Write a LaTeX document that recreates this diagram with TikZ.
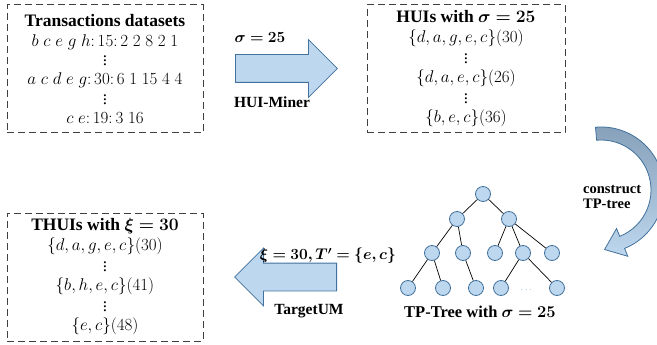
\documentclass[tikz,border=0pt]{standalone}
\usepackage{fix-cm}
\usepackage{amsmath}
\usepackage{amssymb}
\usepackage{bm}
\usepackage{fontspec}
\setmainfont{Liberation Serif}
\usepackage{tikz}
\usetikzlibrary{shapes.arrows,calc,positioning}

\definecolor{nodefill}{RGB}{189,215,238}
\definecolor{nodeline}{RGB}{65,113,156}
\definecolor{darkshade}{RGB}{135,160,185}
\definecolor{dotcol}{RGB}{157,195,230}

\newcommand{\boxtitle}[1]{{\fontsize{17.5}{20}\selectfont\bfseries #1}}

\begin{document}
\begin{tikzpicture}
      [x=1pt,y=1pt,
       setbox/.style={draw=black!75,line width=1pt,dash pattern=on 7pt off 4pt,
         minimum width=196pt,minimum height=128pt,align=center,inner sep=0pt,
         font=\fontsize{17}{19.3}\selectfont},
       blockarrow/.style={single arrow,fill=nodefill,draw=nodeline,line width=0.8pt,
         minimum height=102pt,single arrow head extend=15pt,inner xsep=0pt,inner ysep=13.5pt},
       curvedarrow/.style={top color=darkshade,bottom color=nodefill,draw=nodeline,line width=0.8pt},
       lbl/.style={font=\fontsize{15.5}{18}\selectfont\bfseries,inner sep=0pt},
       tpnode/.style={circle,fill=nodefill,draw=nodeline,line width=0.8pt,minimum size=15pt,inner sep=0pt}]
      \useasboundingbox (0,0) rectangle (657,-345);

      % the three item-set boxes
      \node[setbox] (data) at (105,-69) {\boxtitle{Transactions datasets}\\
        $b\;c\;e\;g\;h{:}\,15{:}\,2\;2\;8\;2\;1$\\ $\vdots$\\
        $a\;c\;d\;e\;g{:}\,30{:}\,6\;1\;15\;4\;4$\\ $\vdots$\\
        $c\;e{:}\,19{:}\,3\;16$};
      \node[setbox,minimum width=198pt] (huis) at (466,-69) {\boxtitle{HUIs with $\bm{\sigma = 25}$}\\
        $\{d, a, g, e, c\}(30)$\\ $\vdots$\\
        $\{d, a, e, c\}(26)$\\ $\vdots$\\
        $\{b, e, c\}(36)$};
      \node[setbox] (thuis) at (105,-277) {\boxtitle{THUIs with $\bm{\xi = 30}$}\\
        $\{d, a, g, e, c\}(30)$\\ $\vdots$\\
        $\{b, h, e, c\}(41)$\\ $\vdots$\\
        $\{e, c\}(48)$};

      % block arrows and their labels
      \node[blockarrow,anchor=tail] (miner) at (235,-68.5) {};
      \node[blockarrow,shape border rotate=180,anchor=tail] (target) at (337,-277) {};
      \node[lbl] (sigma) at (260,-38) {$\bm{\sigma = 25}$};
      \node[lbl] (minerlbl) at (272,-102) {HUI-Miner};
      \node[lbl] (xi) at (328,-256) {$\bm{\xi = 30, T' = \{e, c\}}$};
      \node[lbl] (targetlbl) at (309,-311) {TargetUM};

      % curved arrow
      \coordinate (ctr) at (601,-190);
      \draw[curvedarrow] ($(ctr)+(95:63pt)$) arc[start angle=95,end angle=-68,radius=63pt]
        -- ($(ctr)+(-68:71.5pt)$) -- ($(ctr)+(-68:56.5pt)+(-158:19pt)$)
        -- ($(ctr)+(-68:41.5pt)$) -- ($(ctr)+(-68:50pt)$)
        arc[start angle=-68,end angle=95,radius=50pt] -- cycle;
      \node[lbl,align=left,anchor=west,font=\fontsize{14.5}{15.5}\selectfont\bfseries] (construct) at (583,-197) {construct\\TP-tree};

      % TP-tree
      \foreach \n/\x/\y in {r/483/194, a/457/219, b/509/219,
          c/432/253, d/463/253, e/495/253, f/523/253, g/552/253,
          h/408/288, i/443/288, j/476/288, k/501/288, l/557/288}
        \node[tpnode] (\n) at (\x,-\y) {};
      \foreach \p/\q in {r/a, r/b, a/c, a/d, b/e, b/f, b/g, c/h, c/i, d/j, f/k, f/l}
        \draw[line width=0.7pt] (\p) -- (\q);
      \node[text=dotcol,inner sep=0pt] (dots) at (527,-290) {$\cdots$};
      \node (tptitle) at (480,-312) {{\fontsize{16.5}{20}\selectfont\bfseries TP-Tree with $\bm{\sigma = 25}$}};
    \end{tikzpicture}
\end{document}
